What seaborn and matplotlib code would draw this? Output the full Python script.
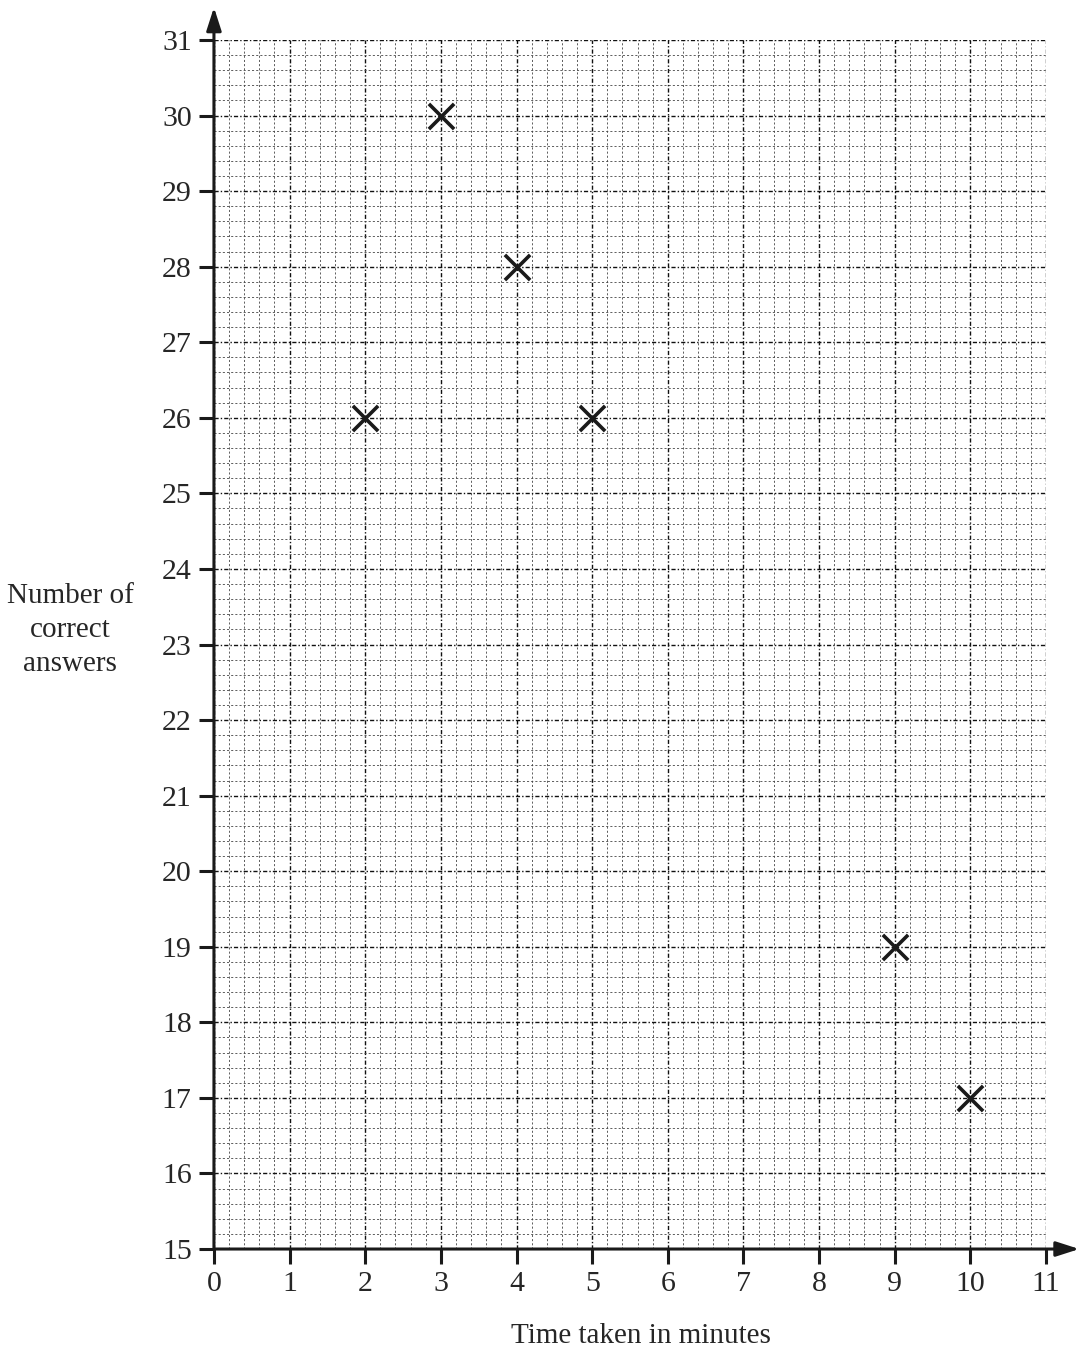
import numpy as np
import pandas as pd
import seaborn as sns
import matplotlib.pyplot as plt
from matplotlib.ticker import MultipleLocator

# Data
time_taken = [2, 3, 4, 5, 9, 10]
correct_answers = [26, 30, 28, 26, 19, 17]
x_ticks = list(range(0, 12))
y_ticks = list(range(15, 32))

df = pd.DataFrame({'time': time_taken, 'correct': correct_answers})

sns.set_style('white')
plt.rcParams['font.family'] = ['Liberation Serif', 'DejaVu Serif']

fig = plt.figure(figsize=(10.8, 13.6), dpi=100)
ax = fig.add_axes([0.1981, 0.0816, 0.7704, 0.8890])

# Grid: minor every 0.2, major every 1
ax.xaxis.set_major_locator(MultipleLocator(1))
ax.yaxis.set_major_locator(MultipleLocator(1))
ax.xaxis.set_minor_locator(MultipleLocator(0.2))
ax.yaxis.set_minor_locator(MultipleLocator(0.2))
ax.grid(which='minor', color='#444444', linestyle=(0, (2.5, 2.5)), linewidth=0.6)
ax.grid(which='major', color='#111111', linestyle=(0, (3, 1.5, 1, 1.5)), linewidth=1.0)
ax.set_axisbelow(True)

sns.scatterplot(data=df, x='time', y='correct', ax=ax, marker='x', s=330,
                color='#1a1a1a', linewidth=2.6, zorder=5, legend=False)

ax.set_xlim(0, 11)
ax.set_ylim(15, 31)
ax.set_xticks(x_ticks)
ax.set_yticks(y_ticks)
ax.set_xticklabels([str(v) for v in x_ticks], fontsize=21.5)
ax.set_yticklabels([str(v) for v in y_ticks], fontsize=21.5)
ax.tick_params(which='major', bottom=True, left=True, direction='out', length=11,
               width=2.2, color='#1a1a1a', pad=5)
ax.tick_params(which='minor', bottom=False, left=False, length=0)

for side in ['top', 'right', 'left', 'bottom']:
    ax.spines[side].set_visible(False)

# Axes with arrow heads
ax.annotate('', xy=(1.04, 0), xytext=(0, 0), xycoords='axes fraction',
            arrowprops=dict(arrowstyle='-|>,head_length=1.4,head_width=0.45',
                            lw=2.2, color='#1a1a1a', shrinkA=0, shrinkB=0))
ax.annotate('', xy=(0, 1.027), xytext=(0, 0), xycoords='axes fraction',
            arrowprops=dict(arrowstyle='-|>,head_length=1.4,head_width=0.45',
                            lw=2.2, color='#1a1a1a', shrinkA=0, shrinkB=0))

ax.set_xlabel('')
ax.set_ylabel('')
fig.text(641 / 1080, 1 - 1336 / 1360, 'Time taken in minutes', ha='center', va='center', fontsize=21)
fig.text(70 / 1080, 1 - 630 / 1360, 'Number of\ncorrect\nanswers', ha='center', va='center',
         fontsize=21, linespacing=1.42)

fig.savefig('out.png', dpi=100)
